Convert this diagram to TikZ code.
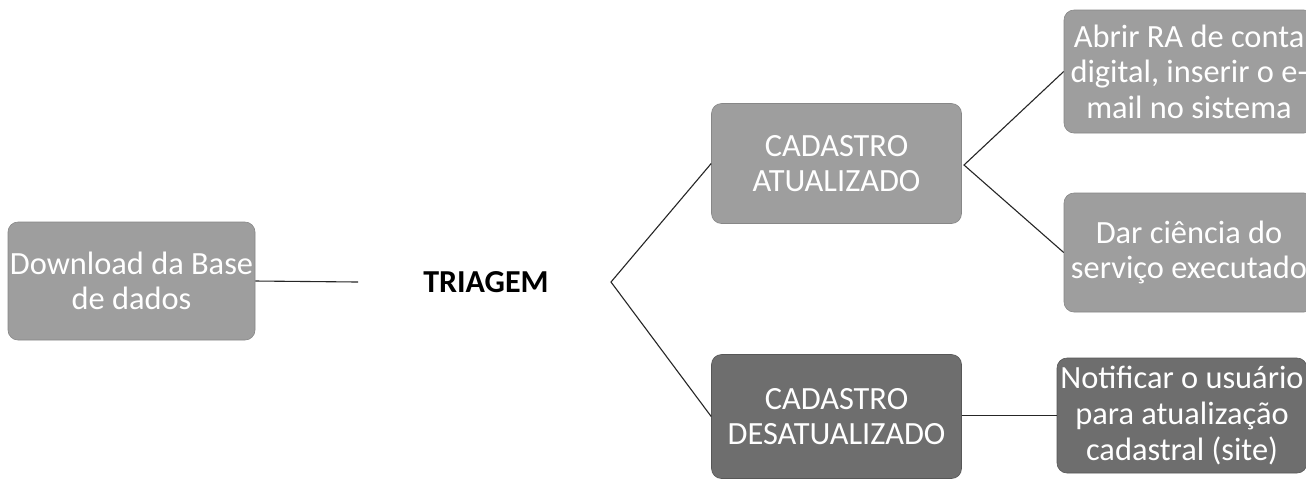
\documentclass[tikz,border=0pt]{standalone}
\usepackage{fontspec}
\setmainfont{Carlito}
\begin{document}
\begin{tikzpicture}[x=0.5pt,y=-0.5pt,
  boxbase/.style={rounded corners=5pt, inner sep=0pt, align=center, text=white,
    font=\fontsize{16.2}{17.8}\selectfont, minimum width=125pt},
  lightbox/.style={boxbase, fill=black!38, draw=black!47, line width=0.3pt},
  darkbox/.style={boxbase, fill=black!57, draw=black!66, line width=0.3pt},
  conn/.style={draw=black!85, line width=0.55pt}]
\path[use as bounding box] (0,0) rectangle (1306,479);
\clip (0,0) rectangle (1306,479);
\fill[white] (0,0) rectangle (1306,479);

\node[lightbox, minimum width=123.5pt, minimum height=59pt] (dl) at (131.5,281) {Download da Base\\de dados};
\node[font=\fontsize{16}{18}\selectfont\bfseries] (tri) at (486,282) {TRIAGEM};
\node[lightbox, minimum height=60pt] (ca) at (836.5,163.5) {CADASTRO\\ATUALIZADO};
\node[darkbox, minimum height=62pt] (cd) at (836.5,416.5) {CADASTRO\\DESATUALIZADO};
\node[lightbox, minimum height=61.5pt] (ab) at (1189,71.5) {Abrir RA de conta\\digital, inserir o e-\\mail no sistema};
\node[lightbox, minimum height=59.5pt] (dar) at (1189,252.5) {Dar ciência do\\serviço executado};
\node[darkbox, minimum height=57.5pt] (no) at (1182,415.5) {Notificar o usuário\\para atualização\\cadastral (site)};

\coordinate (tl) at (358,282);
\coordinate (tr) at (611,282);
\coordinate (cr) at (964,165);

\draw[conn] (dl.east) -- (tl);
\draw[conn] (ca.west) -- (tr) -- (cd.west);
\draw[conn] (ab.west) -- (cr) -- (dar.west);
\draw[conn] (cd.east |- no.west) -- (no.west);
\end{tikzpicture}
\end{document}
